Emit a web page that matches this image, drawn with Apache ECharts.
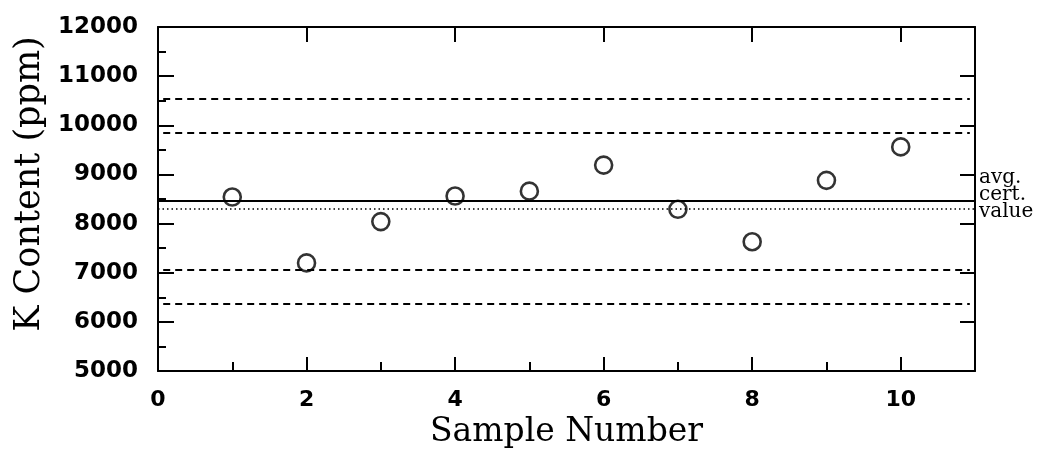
<!DOCTYPE html>
<html>
<head>
<meta charset="utf-8">
<script src="https://cdn.jsdelivr.net/npm/echarts@6/dist/echarts.min.js"></script>
<style>
html,body{margin:0;padding:0;background:#fff;}
#c{width:1038px;height:449px;}
</style>
</head>
<body>
<div id="c"></div>
<script>
// Data
const sampleNumbers = [1, 2, 3, 4, 5, 6, 7, 8, 9, 10];
const kContent = [8540, 7200, 8040, 8560, 8660, 9190, 8290, 7630, 8880, 9560];
const avgValue = 8470;          // solid line
const certValue = 8300;         // dotted line
const limitLines = [10550, 9840, 7060, 6370]; // dashed lines
const yTicks = [5000, 12000, 1000];
const xRange = [0, 11, 2];

const serif = '"DejaVu Serif", "Liberation Serif", serif';
const sans = '"DejaVu Sans", "Liberation Sans", sans-serif';

const chart = echarts.init(document.getElementById('c'), null, {renderer: 'canvas'});

const lineSeg = (v) => [{coord: [0.07, v]}, {coord: [10.93, v]}];

const option = {
  animation: false,
  backgroundColor: '#ffffff',
  grid: {left: 158, top: 27, width: 817, height: 344, containLabel: false, outerBoundsMode: 'none'},
  xAxis: [
    {
      type: 'value', position: 'bottom', min: xRange[0], max: xRange[1], interval: xRange[2],
      name: 'Sample Number', nameLocation: 'middle', nameGap: 40,
      nameTextStyle: {fontFamily: serif, fontSize: 33, color: '#000'},
      axisLine: {show: true, onZero: false, lineStyle: {color: '#000', width: 2}},
      axisTick: {show: true, inside: true, length: 14, lineStyle: {color: '#000', width: 2}},
      minorTick: {show: true, splitNumber: 2, length: 9, lineStyle: {color: '#000', width: 2}},
      axisLabel: {show: true, margin: 18, fontFamily: sans, fontWeight: 'bold', fontSize: 22, color: '#000',
        showMaxLabel: false, formatter: v => String(v)},
      splitLine: {show: false}
    },
    {
      type: 'value', position: 'top', min: xRange[0], max: xRange[1], interval: xRange[2],
      axisLine: {show: true, onZero: false, lineStyle: {color: '#000', width: 2}},
      axisTick: {show: true, inside: true, length: 15, lineStyle: {color: '#000', width: 2}},
      axisLabel: {show: false},
      splitLine: {show: false}
    }
  ],
  yAxis: [
    {
      type: 'value', position: 'left', min: yTicks[0], max: yTicks[1], interval: yTicks[2],
      name: 'K Content (ppm)', nameLocation: 'middle', nameGap: 107,
      nameTextStyle: {fontFamily: serif, fontSize: 35, color: '#000', padding: [0, 0, 0, 30]},
      axisLine: {show: true, onZero: false, lineStyle: {color: '#000', width: 2}},
      axisTick: {show: true, inside: true, length: 16, lineStyle: {color: '#000', width: 2}},
      minorTick: {show: true, splitNumber: 2, length: 8, lineStyle: {color: '#000', width: 2}},
      axisLabel: {show: true, margin: 20, fontFamily: sans, fontWeight: 'bold', fontSize: 23, color: '#000',
        formatter: v => String(v)},
      splitLine: {show: false}
    },
    {
      type: 'value', position: 'right', min: yTicks[0], max: yTicks[1], interval: yTicks[2],
      axisLine: {show: true, onZero: false, lineStyle: {color: '#000', width: 2}},
      axisTick: {show: true, inside: true, length: 15, lineStyle: {color: '#000', width: 2}},
      axisLabel: {show: false},
      splitLine: {show: false}
    }
  ],
  series: [
    {
      type: 'scatter',
      xAxisIndex: 0, yAxisIndex: 0,
      data: sampleNumbers.map((x, i) => [x, kContent[i]]),
      symbol: 'circle', symbolSize: 17,
      itemStyle: {color: 'rgba(255,255,255,0)', borderColor: '#000', borderWidth: 2.6},
      z: 5,
      markLine: {
        silent: true, symbol: 'none', animation: false,
        data: [
          ...limitLines.map(v => {
            const s = lineSeg(v);
            s[0].lineStyle = {type: [7, 5], color: '#000', width: 2};
            s[0].label = {show: false};
            return s;
          }),
          (() => {
            const s = [{coord: [0, certValue]}, {coord: [11, certValue]}];
            s[0].lineStyle = {type: [1.5, 3], color: '#000', width: 1.5};
            s[0].label = {show: false};
            return s;
          })(),
          (() => {
            const s = [{coord: [0, avgValue]}, {coord: [11, avgValue]}];
            s[0].lineStyle = {type: 'solid', color: '#000', width: 2};
            s[0].label = {show: true, position: 'end', distance: 4, offset: [0, -6],
              formatter: 'avg.\ncert.\nvalue', fontFamily: serif, fontSize: 20,
              lineHeight: 17, color: '#000', align: 'left'};
            return s;
          })()
        ]
      }
    }
  ]
};
chart.setOption(option);
</script>
</body>
</html>
